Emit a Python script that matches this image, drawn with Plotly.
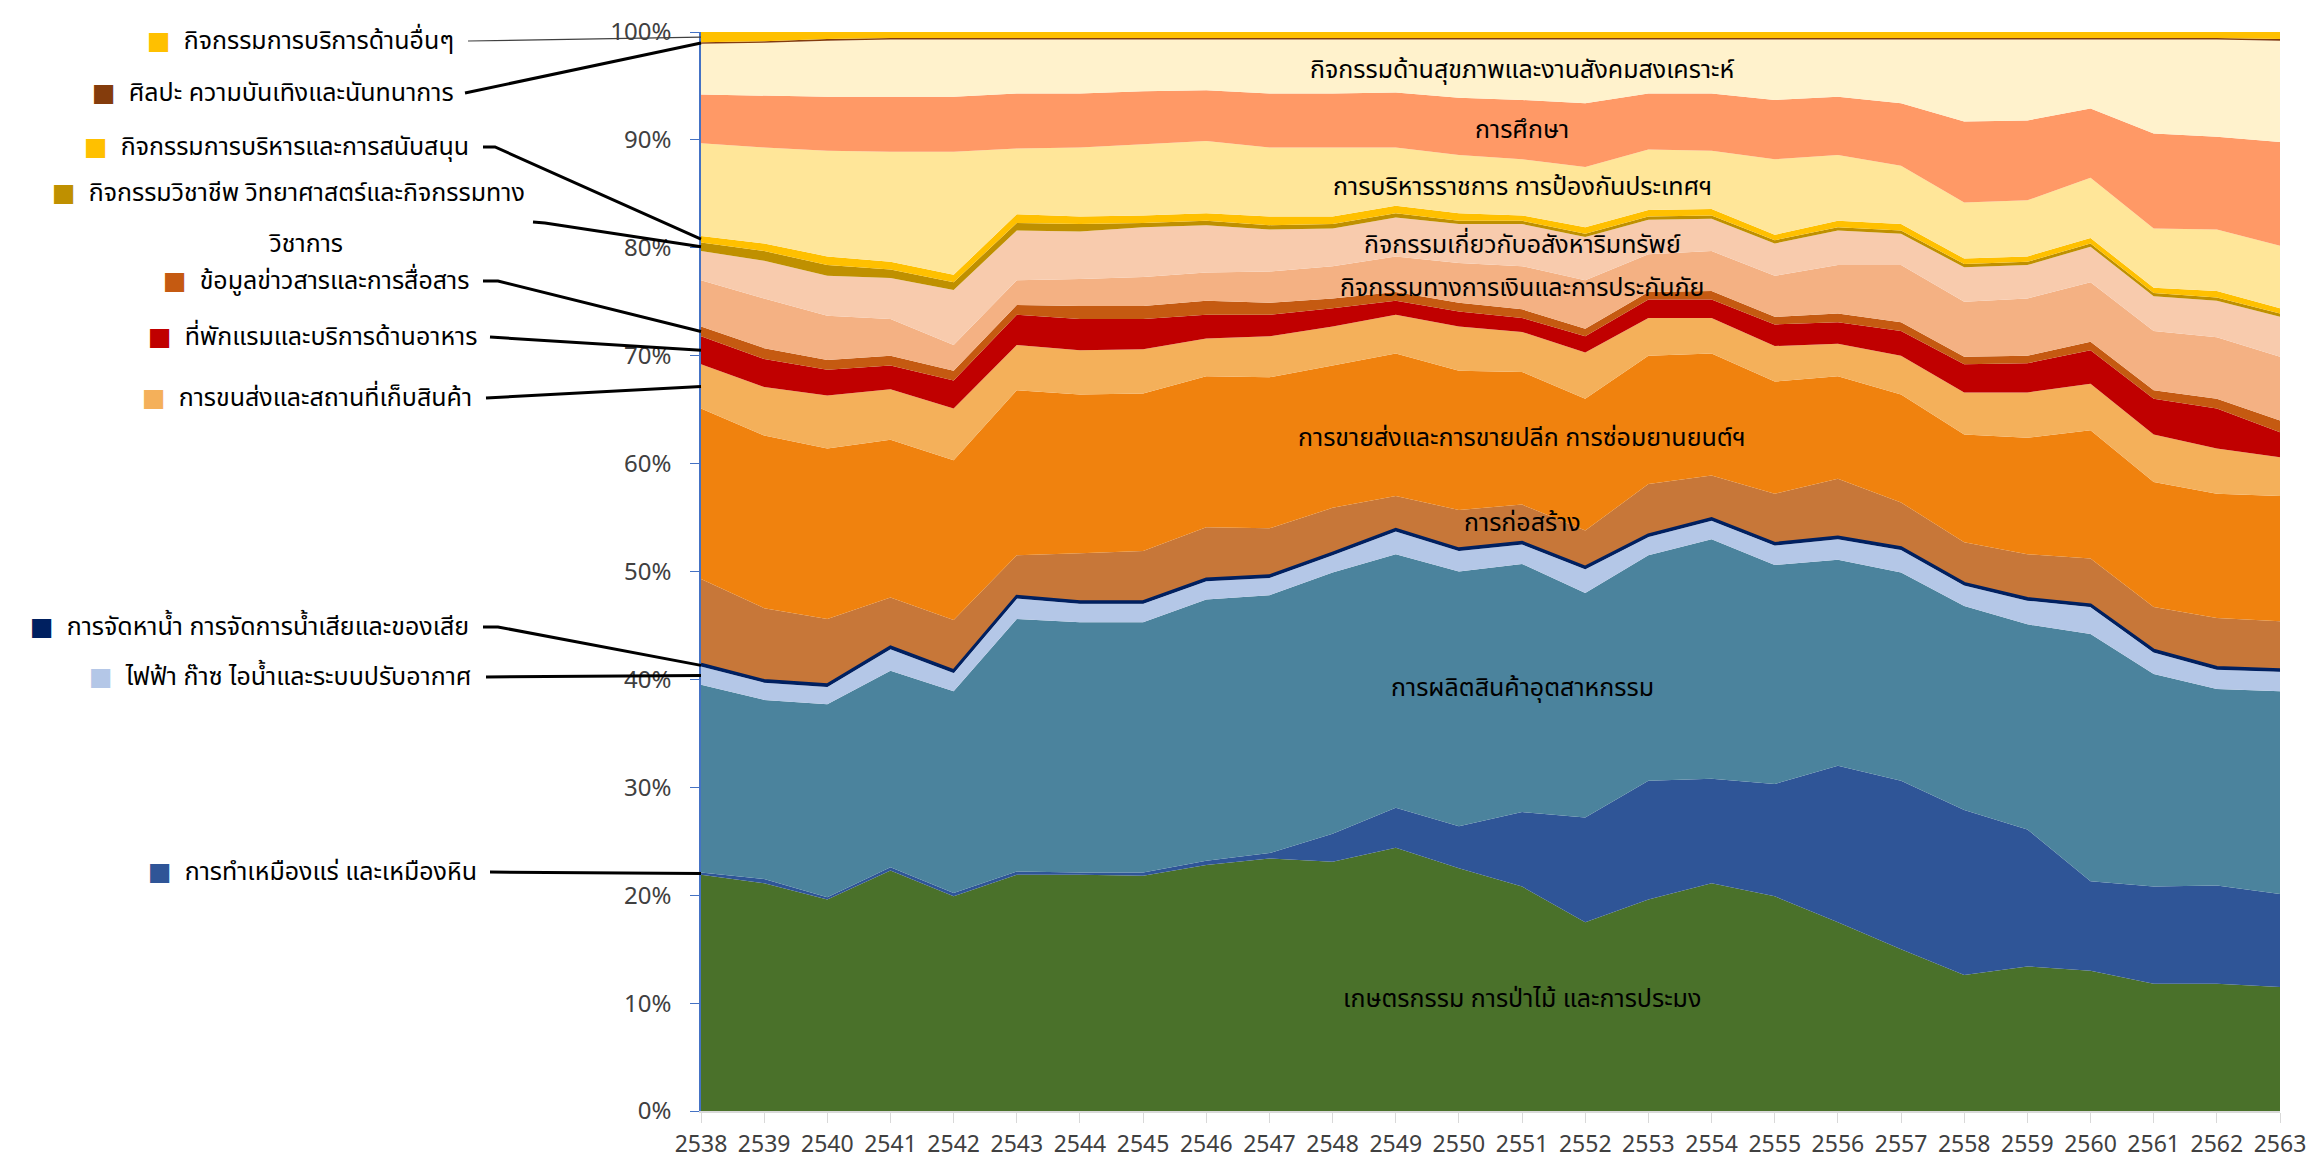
import numpy as np
import plotly.graph_objects as go

# ---------------- data (share of GPP, %) ----------------
years = [2538, 2539, 2540, 2541, 2542, 2543, 2544, 2545, 2546, 2547, 2548, 2549, 2550,
         2551, 2552, 2553, 2554, 2555, 2556, 2557, 2558, 2559, 2560, 2561, 2562, 2563]

agri = [21.9, 21.1, 19.6, 22.3, 19.9, 21.9, 21.9, 21.8, 22.8, 23.4, 23.1, 24.4, 22.5,
        20.8, 17.5, 19.6, 21.1, 19.9, 17.5, 15.0, 12.6, 13.4, 13.0, 11.8, 11.8, 11.5]
mining = [0.2, 0.4, 0.2, 0.3, 0.3, 0.3, 0.2, 0.3, 0.4, 0.5, 2.6, 3.7, 3.9,
          6.9, 9.7, 11.0, 9.7, 10.4, 14.5, 15.6, 15.3, 12.7, 8.3, 9.0, 9.1, 8.6]
manuf = [17.4, 16.6, 17.9, 18.2, 18.7, 23.4, 23.2, 23.2, 24.2, 23.9, 24.2, 23.5, 23.6,
         23.0, 20.8, 20.9, 22.2, 20.3, 19.1, 19.3, 18.9, 19.0, 22.9, 19.7, 18.2, 18.8]
elec = [1.7, 1.6, 1.6, 2.0, 1.7, 1.9, 1.7, 1.7, 1.7, 1.6, 1.6, 2.1, 1.9,
        1.8, 2.2, 1.7, 1.7, 1.8, 1.9, 2.1, 1.9, 2.2, 2.5, 2.0, 1.8, 1.8]
water = [0.2, 0.2, 0.2, 0.2, 0.2, 0.2, 0.2, 0.2, 0.2, 0.2, 0.2, 0.2, 0.2,
         0.2, 0.2, 0.2, 0.2, 0.2, 0.2, 0.2, 0.2, 0.2, 0.2, 0.2, 0.2, 0.2]
constr = [7.9, 6.7, 6.1, 4.6, 4.7, 3.8, 4.5, 4.7, 4.8, 4.4, 4.2, 3.1, 3.6,
          3.5, 3.4, 4.7, 4.0, 4.6, 5.4, 4.2, 3.8, 4.1, 4.3, 4.0, 4.6, 4.5]
trade = [15.8, 16.0, 15.8, 14.6, 14.8, 15.3, 14.7, 14.6, 14.0, 14.0, 13.2, 13.2, 12.9,
         12.3, 12.2, 11.9, 11.3, 10.4, 9.5, 10.0, 10.0, 10.8, 11.9, 11.6, 11.5, 11.6]
transp = [4.1, 4.5, 4.9, 4.7, 4.8, 4.2, 4.1, 4.1, 3.5, 3.8, 3.6, 3.6, 4.1,
          3.7, 4.3, 3.5, 3.3, 3.3, 3.0, 3.6, 3.9, 4.2, 4.3, 4.4, 4.2, 3.6]
hotel = [2.6, 2.6, 2.4, 2.2, 2.6, 2.8, 2.9, 2.8, 2.2, 2.0, 1.7, 1.3, 1.4,
         1.3, 1.5, 1.7, 1.7, 2.0, 2.0, 2.3, 2.6, 2.7, 3.1, 3.3, 3.7, 2.3]
info = [0.9, 1.0, 0.9, 0.9, 0.9, 0.9, 1.2, 1.2, 1.3, 1.1, 0.9, 0.8, 0.8,
        0.8, 0.7, 0.7, 0.8, 0.7, 0.8, 0.8, 0.7, 0.7, 0.8, 0.8, 0.9, 1.1]
fin = [4.3, 4.6, 4.1, 3.4, 2.4, 2.3, 2.5, 2.7, 2.6, 2.9, 3.0, 3.3, 3.7,
       4.0, 4.5, 3.5, 3.7, 3.8, 4.5, 5.3, 5.1, 5.3, 5.5, 5.5, 5.7, 5.9]
realest = [2.7, 3.5, 3.7, 3.8, 5.1, 4.6, 4.4, 4.6, 4.4, 3.9, 3.5, 3.6, 3.6,
           3.9, 4.0, 3.2, 3.0, 3.0, 3.2, 2.9, 3.2, 3.1, 3.3, 3.2, 3.4, 3.7]
prof = [0.8, 0.9, 1.0, 0.8, 0.7, 0.7, 0.7, 0.4, 0.4, 0.4, 0.4, 0.4, 0.3,
        0.3, 0.3, 0.3, 0.3, 0.3, 0.3, 0.3, 0.3, 0.3, 0.3, 0.3, 0.3, 0.3]
admin = [0.6, 0.7, 0.8, 0.7, 0.7, 0.8, 0.7, 0.7, 0.7, 0.8, 0.7, 0.7, 0.7,
         0.5, 0.6, 0.6, 0.6, 0.5, 0.6, 0.6, 0.5, 0.5, 0.5, 0.5, 0.6, 0.5]
pubadm = [8.6, 8.9, 9.8, 10.2, 11.4, 6.1, 6.4, 6.6, 6.7, 6.4, 6.4, 5.4, 5.4,
          5.2, 5.6, 5.6, 5.4, 7.0, 6.1, 5.4, 5.2, 5.2, 5.6, 5.5, 5.7, 5.8]
educ = [4.5, 4.8, 5.0, 5.1, 5.1, 5.1, 5.0, 4.9, 4.7, 5.0, 5.0, 5.1, 5.3,
        5.5, 5.9, 5.2, 5.3, 5.5, 5.4, 5.8, 7.5, 7.4, 6.4, 8.8, 8.6, 9.6]
health = [4.7, 4.9, 5.2, 5.3, 5.3, 5.0, 5.0, 4.8, 4.7, 5.0, 5.0, 4.9, 5.4,
          5.6, 5.9, 5.0, 5.0, 5.6, 5.3, 5.9, 7.6, 7.5, 6.4, 8.7, 9.0, 9.4]
arts = [0.15, 0.15, 0.15, 0.15, 0.15, 0.15, 0.15, 0.15, 0.15, 0.15, 0.15, 0.15, 0.15,
        0.15, 0.15, 0.15, 0.15, 0.15, 0.15, 0.15, 0.15, 0.15, 0.15, 0.15, 0.15, 0.15]
other = [0.95, 0.85, 0.65, 0.55, 0.55, 0.55, 0.55, 0.55, 0.55, 0.55, 0.55, 0.55, 0.55,
         0.55, 0.55, 0.55, 0.55, 0.55, 0.55, 0.55, 0.55, 0.55, 0.55, 0.55, 0.55, 0.65]

# series, bottom to top: key, Thai name, values, colour
series = [
    ("agri", "เกษตรกรรม การป่าไม้ และการประมง", agri, "#4A712A"),
    ("mining", "การทำเหมืองแร่ และเหมืองหิน", mining, "#2F5597"),
    ("manuf", "การผลิตสินค้าอุตสาหกรรม", manuf, "#4B839D"),
    ("elec", "ไฟฟ้า ก๊าซ ไอน้ำและระบบปรับอากาศ", elec, "#B4C7E7"),
    ("water", "การจัดหาน้ำ การจัดการน้ำเสียและของเสีย", water, "#002060"),
    ("constr", "การก่อสร้าง", constr, "#C77739"),
    ("trade", "การขายส่งและการขายปลีก การซ่อมยานยนต์ฯ", trade, "#F0820E"),
    ("transp", "การขนส่งและสถานที่เก็บสินค้า", transp, "#F4B05A"),
    ("hotel", "ที่พักแรมและบริการด้านอาหาร", hotel, "#C00000"),
    ("info", "ข้อมูลข่าวสารและการสื่อสาร", info, "#C55A11"),
    ("fin", "กิจกรรมทางการเงินและการประกันภัย", fin, "#F4B183"),
    ("realest", "กิจกรรมเกี่ยวกับอสังหาริมทรัพย์", realest, "#F8CBAD"),
    ("prof", "กิจกรรมวิชาชีพ วิทยาศาสตร์และกิจกรรมทางวิชาการ", prof, "#BF9000"),
    ("admin", "กิจกรรมการบริหารและการสนับสนุน", admin, "#FFC000"),
    ("pubadm", "การบริหารราชการ การป้องกันประเทศฯ", pubadm, "#FFE699"),
    ("educ", "การศึกษา", educ, "#FF9966"),
    ("health", "กิจกรรมด้านสุขภาพและงานสังคมสงเคราะห์", health, "#FFF2CC"),
    ("arts", "ศิลปะ ความบันเทิงและนันทนาการ", arts, "#843C0C"),
    ("other", "กิจกรรมการบริการด้านอื่นๆ", other, "#FFC000"),
]

FONT = "Noto Sans Thai, Loma, Garuda, Tahoma, Noto Sans, DejaVu Sans, sans-serif"
W, H = 2309, 1168
PL, PR, PT, PB = 701, 2280, 32, 1111  # plot area in pixels


def px_x(X):
    return (X - PL) / (PR - PL)


def px_y(Y):
    return (PB - Y) / (PB - PT)


vals = np.array([s[2] for s in series], dtype=float)
share = vals / vals.sum(axis=0) * 100
cum = np.cumsum(share, axis=0)
mid = cum - share / 2
idx = {s[0]: i for i, s in enumerate(series)}

fig = go.Figure()
for i, (key, name, v, col) in enumerate(series):
    lw = 3 if key == "water" else 0
    fig.add_trace(go.Scatter(
        x=years, y=v, name=name, stackgroup="one",
        groupnorm="percent" if i == 0 else None,
        mode="lines", line=dict(width=lw, color=col), fillcolor=col,
        hoverinfo="skip", showlegend=False))

# in-chart labels at 2551
lab_year = 2551
j = years.index(lab_year)
annotations = []
for key in ["health", "educ", "pubadm", "realest", "fin", "trade", "constr", "manuf", "agri"]:
    i = idx[key]
    annotations.append(dict(x=lab_year, y=mid[i, j], xref="x", yref="y",
                            text=series[i][1], showarrow=False,
                            font=dict(family=FONT, size=25, color="#000000"),
                            xanchor="center", yanchor="middle"))

# left-side labels with leader lines (to first-year point)
left_items = [
    # key, text right edge px, text y px, leader points px (start, elbow), line width
    ("other", 456, 41, [(468, 41)], 1.2),
    ("arts", 456, 93, [(465, 93)], 3),
    ("admin", 471, 147, [(483, 147), (495, 147)], 3),
    ("prof", 527, 193, [(533, 222), (545, 223)], 3),
    ("info", 471, 281, [(483, 281), (498, 281)], 3),
    ("hotel", 479, 337, [(490, 337)], 3),
    ("transp", 474, 398, [(486, 398)], 3),
    ("water", 471, 627, [(483, 627), (498, 627)], 3),
    ("elec", 474, 677, [(486, 677)], 3),
    ("mining", 479, 872, [(490, 872)], 3),
]
shapes = []
for key, tx, ty, pts, lw in left_items:
    i = idx[key]
    col = series[i][3]
    name = series[i][1]
    if key == "prof":
        first, second = name[:-len("วิชาการ")], "วิชาการ"
        annotations.append(dict(
            x=px_x(306), y=px_y(244), xref="paper", yref="paper", text=second,
            showarrow=False, xanchor="center", yanchor="middle",
            font=dict(family=FONT, size=25, color="#000000")))
        name = first
    annotations.append(dict(
        x=px_x(tx), y=px_y(ty), xref="paper", yref="paper",
        text=f"<span style='color:{col}'>■</span>  {name}",
        showarrow=False, xanchor="right", yanchor="middle",
        font=dict(family=FONT, size=25, color="#000000")))
    path = "M " + " L ".join(f"{px_x(x)},{px_y(y)}" for x, y in pts)
    path += f" L 0,{mid[i, 0] / 100}"
    shapes.append(dict(type="path", path=path, xref="paper", yref="paper",
                       line=dict(color="#000000" if lw > 2 else "#404040", width=lw)))

fig.update_layout(
    width=W, height=H,
    margin=dict(l=PL, r=W - PR, t=PT, b=H - PB, autoexpand=False),
    paper_bgcolor="white", plot_bgcolor="white",
    font=dict(family=FONT, size=24, color="#404040"),
    annotations=annotations, shapes=shapes,
)
fig.update_xaxes(range=[years[0], years[-1]], tickvals=years, ticktext=[str(y) for y in years],
                 showline=True, linecolor="#D9D9D9", linewidth=1.5, ticks="outside",
                 ticklen=10, tickcolor="#D9D9D9", showgrid=False, zeroline=False,
                 tickfont=dict(size=23, color="#404040"), ticklabelstandoff=2,
                 automargin=False)
fig.update_yaxes(range=[0, 100], tickvals=list(range(0, 101, 10)),
                 ticktext=[f"{v}%" for v in range(0, 101, 10)],
                 showline=True, linecolor="#4472C4", linewidth=1.5, ticks="outside",
                 ticklen=9, tickcolor="#4472C4", showgrid=False, zeroline=False,
                 tickfont=dict(size=24, color="#404040"), ticklabelstandoff=14,
                 automargin=False)

fig.write_html("out.html", config={"displayModeBar": False},
               post_script="document.body.style.margin='0';")
